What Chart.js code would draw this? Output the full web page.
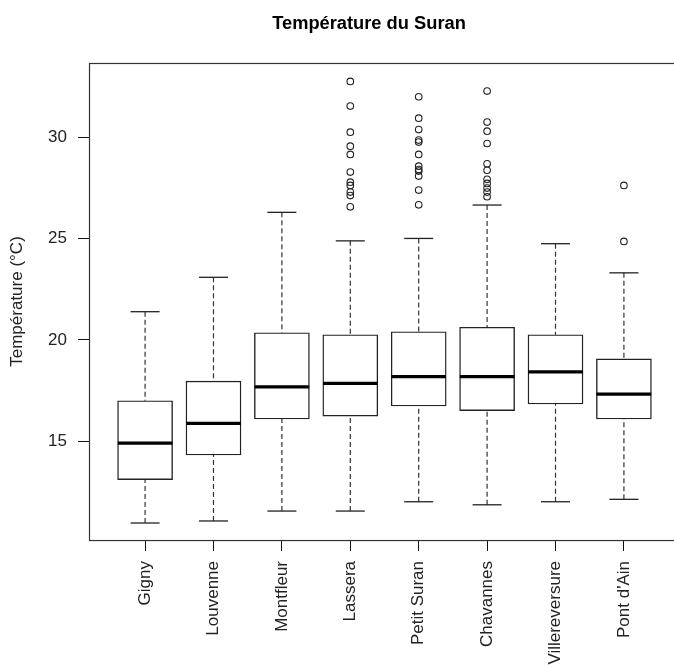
<!DOCTYPE html>
<html>
<head>
<meta charset="utf-8">
<script src="https://cdn.jsdelivr.net/npm/chart.js@4/dist/chart.umd.min.js"></script>
<style>
  html, body { margin: 0; padding: 0; background: #fff; }
  #wrap { width: 674px; height: 665px; overflow: hidden; position: relative; }
  canvas { display: block; }
</style>
</head>
<body>
<div id="wrap"><canvas id="c" width="738" height="665"></canvas></div>
<script>
// ---- data ----
const categories = ['Gigny', 'Louvenne', 'Montfleur', 'Lassera', 'Petit Suran', 'Chavannes', 'Villereversure', "Pont d'Ain"];
const whiskerLow  = [10.95, 11.05, 11.54, 11.54, 12.00, 11.85, 12.00, 12.12];
const q1          = [13.09, 14.31, 16.09, 16.23, 16.73, 16.50, 16.83, 16.09];
const median      = [14.90, 15.87, 17.68, 17.85, 18.18, 18.18, 18.42, 17.32];
const q3          = [16.99, 17.96, 20.35, 20.25, 20.40, 20.62, 20.25, 19.06];
const whiskerHigh = [21.39, 23.09, 26.30, 24.89, 25.01, 26.66, 24.75, 23.31];
const outliersGigny = [];
const outliersLouvenne = [];
const outliersMontfleur = [];
const outliersLassera = [32.77, 31.55, 30.26, 29.57, 29.16, 28.29, 27.79, 27.63, 27.30, 27.13, 26.57];
const outliersPetitSuran = [32.01, 30.95, 30.39, 29.87, 29.77, 29.16, 28.58, 28.41, 28.34, 28.09, 27.40, 26.67];
const outliersChavannes = [32.29, 30.76, 30.31, 29.70, 28.70, 28.38, 27.93, 27.73, 27.50, 27.30, 27.07];
const outliersVillereversure = [];
const outliersPontDAin = [27.63, 24.86];
const yTicks = [15, 20, 25, 30];
const chartTitle = 'Température du Suran';
const yTitle = 'Température (°C)';

// ---- build library data ----
const outliers = [outliersGigny, outliersLouvenne, outliersMontfleur, outliersLassera,
                  outliersPetitSuran, outliersChavannes, outliersVillereversure, outliersPontDAin];
const pos = categories.map((c, i) => i + 1);
const boxData = pos.map((x, i) => ({ x: x, y: [q1[i], q3[i]] }));
const medData = pos.map((x, i) => ({ x: x, y: median[i] }));
const capData = [];
pos.forEach((x, i) => { capData.push({ x: x, y: whiskerLow[i] }); capData.push({ x: x, y: whiskerHigh[i] }); });
const whiskData = [];
pos.forEach((x, i) => {
  whiskData.push({ x: x, y: whiskerHigh[i] }, { x: x, y: q3[i] }, { x: x, y: null });
  whiskData.push({ x: x, y: whiskerLow[i] }, { x: x, y: q1[i] }, { x: x, y: null });
});
const outData = [];
outliers.forEach((arr, i) => arr.forEach(v => outData.push({ x: pos[i], y: v })));

Chart.defaults.font.family = '"Liberation Sans", Arial, sans-serif';
Chart.defaults.color = '#222';

const framePlugin = {
  id: 'frame',
  afterDraw(chart) {
    const a = chart.chartArea, ctx = chart.ctx;
    ctx.save();
    ctx.strokeStyle = '#333';
    ctx.lineWidth = 1.2;
    ctx.strokeRect(Math.round(a.left) + 0.5, Math.round(a.top) + 0.5, a.right - a.left, a.bottom - a.top);
    ctx.restore();
  }
};

new Chart(document.getElementById('c'), {
  type: 'bar',
  data: {
    datasets: [
      { type: 'scatter', label: 'median', data: medData, order: 0,
        pointStyle: 'line', pointRadius: 27.3, pointBorderWidth: 3.2,
        pointBorderColor: '#000', pointBackgroundColor: '#000', pointHoverRadius: 27.3 },
      { type: 'scatter', label: 'caps', data: capData, order: 1,
        pointStyle: 'line', pointRadius: 14.5, pointBorderWidth: 1.3,
        pointBorderColor: '#222', pointHoverRadius: 14.5 },
      { type: 'scatter', label: 'outliers', data: outData, order: 1,
        pointStyle: 'circle', pointRadius: 3.3, pointBorderWidth: 1.1,
        pointBorderColor: '#222', pointBackgroundColor: 'rgba(255,255,255,0)' },
      { type: 'bar', label: 'box', data: boxData, order: 2,
        backgroundColor: '#fff', borderColor: '#222', borderWidth: 1.4,
        borderSkipped: false, barThickness: 55 },
      { type: 'line', label: 'whiskers', data: whiskData, order: 3,
        borderColor: '#333', borderWidth: 1.2, borderDash: [5, 3],
        pointRadius: 0, spanGaps: false, tension: 0, fill: false }
    ]
  },
  options: {
    responsive: false,
    animation: false,
    events: [],
    layout: { padding: { left: 0, right: 0, top: 0, bottom: 0 } },
    plugins: {
      legend: { display: false },
      tooltip: { enabled: false },
      title: {
        display: true, text: chartTitle, color: '#000',
        font: { size: 18.3, weight: 'bold' },
        padding: { top: 13, bottom: 28 }
      }
    },
    scales: {
      x: {
        type: 'linear', min: 0.18, max: 8.82, offset: false,
        grid: { display: true, drawOnChartArea: false, drawTicks: true, tickLength: 11, tickColor: '#111', offset: false },
        border: { display: false },
        afterBuildTicks: (s) => { s.ticks = pos.map(v => ({ value: v })); },
        afterFit: (s) => { s.height = 125; },
        ticks: {
          autoSkip: false, minRotation: 90, maxRotation: 90, padding: 10,
          font: { size: 17 }, color: '#222',
          callback: (v) => categories[v - 1]
        }
      },
      y: {
        type: 'linear', position: 'left', min: 10.11, max: 33.68,
        grid: { display: true, drawOnChartArea: false, drawTicks: true, tickLength: 11, tickColor: '#111' },
        border: { display: false },
        afterBuildTicks: (s) => { s.ticks = yTicks.map(v => ({ value: v })); },
        afterFit: (s) => { s.width = 89; },
        title: { display: true, text: yTitle, font: { size: 17 }, color: '#222', padding: { top: 7, bottom: 0 } },
        ticks: { padding: 11, font: { size: 17 }, color: '#222' }
      },
      yRight: {
        type: 'linear', position: 'right', display: true, min: 10.11, max: 33.68,
        grid: { display: false, drawTicks: false },
        border: { display: false },
        ticks: { display: false },
        afterFit: (s) => { s.width = 58; }
      }
    }
  },
  plugins: [framePlugin]
});
</script>
</body>
</html>
